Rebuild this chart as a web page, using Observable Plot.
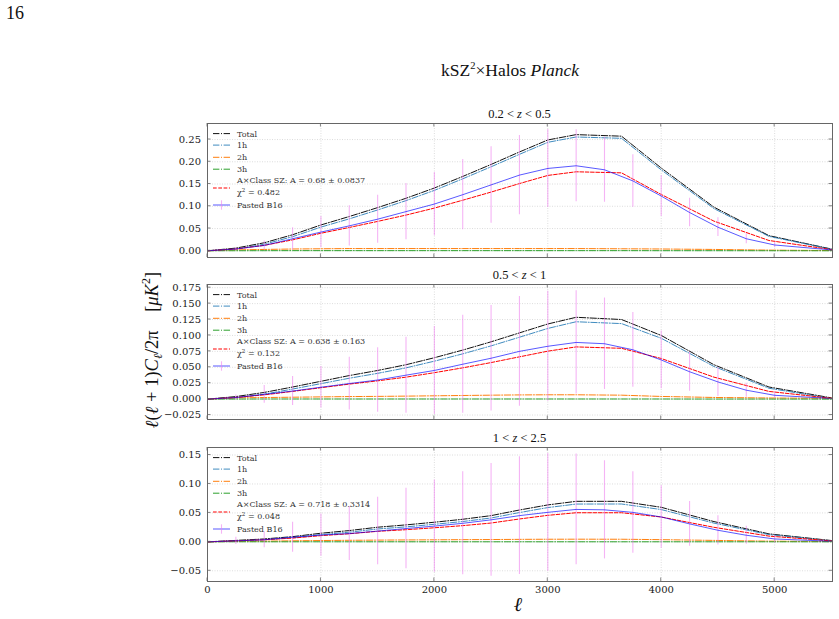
<!DOCTYPE html>
<html>
<head>
<meta charset="utf-8">
<script src="https://cdn.jsdelivr.net/npm/d3@7"></script>
<script src="https://cdn.jsdelivr.net/npm/@observablehq/plot@0.6"></script>
<style>
  body { margin: 0; background: #fff; }
  #fig { position: relative; width: 839px; height: 619px; overflow: hidden; font-family: "Liberation Serif", serif; color: #111; }
  .abs { position: absolute; white-space: nowrap; }
  .ctr { transform: translateX(-50%); }
  .panel { position: absolute; left: 0; }
  sup, sub { line-height: 0; }
</style>
</head>
<body>
<div id="fig"></div>
<script>
// Multipole grid of the halo-model curves
const modelEll = [0, 250, 500, 750, 1000, 1250, 1500, 1750, 2000, 2250, 2500, 2750, 3000, 3250, 3650, 4000, 4465, 4950, 5500];
// Multipoles of the B16 band powers (line end points carry no error bar)
const b16Ell = [0, 250, 500, 750, 1000, 1250, 1500, 1750, 2000, 2250, 2500, 2750, 3000, 3250, 3500, 3750, 4000, 4250, 4500, 4750, 5000, 5500];

const xTicks = [0, 1000, 2000, 3000, 4000, 5000];
const yTicks1 = [0, 0.05, 0.10, 0.15, 0.20, 0.25];
const yTicks2 = [-0.025, 0, 0.025, 0.05, 0.075, 0.10, 0.125, 0.15, 0.175];
const yTicks3 = [-0.05, 0, 0.05, 0.10, 0.15];

const zBins = [["0.2", "0.5"], ["0.5", "1"], ["1", "2.5"]];
const ampA = [0.68, 0.638, 0.718];
const ampErr = [0.0837, 0.163, 0.3314];
const chi2 = [0.482, 0.132, 0.048];

// 0.2 < z < 0.5
const total1  = [0, 0.006, 0.018, 0.036, 0.058, 0.077, 0.097, 0.118, 0.141, 0.167, 0.194, 0.222, 0.249, 0.261, 0.2575, 0.186, 0.098, 0.034, 0.004];
const oneH1   = [0, 0.0039, 0.0148, 0.0317, 0.0532, 0.0717, 0.0917, 0.1127, 0.1357, 0.1617, 0.1887, 0.2167, 0.2437, 0.2557, 0.2527, 0.1818, 0.0948, 0.0324, 0.0035];
const twoH1   = [0, 0.002, 0.003, 0.004, 0.0045, 0.005, 0.005, 0.005, 0.005, 0.005, 0.005, 0.005, 0.005, 0.005, 0.0045, 0.004, 0.003, 0.0015, 0.0005];
const threeH1 = [0, 0.0001, 0.0002, 0.0003, 0.0003, 0.0003, 0.0003, 0.0003, 0.0003, 0.0003, 0.0003, 0.0003, 0.0003, 0.0003, 0.0003, 0.0002, 0.0002, 0.0001, 0];
const classSZ1 = [0, 0.0041, 0.0122, 0.0245, 0.0394, 0.0524, 0.066, 0.0802, 0.0959, 0.1136, 0.1319, 0.151, 0.1693, 0.1775, 0.1751, 0.1265, 0.0666, 0.0231, 0.0027];
const b16_1  = [0, 0.004, 0.012, 0.027, 0.042, 0.056, 0.071, 0.088, 0.105, 0.126, 0.148, 0.170, 0.185, 0.191, 0.182, 0.157, 0.123, 0.086, 0.053, 0.027, 0.013, 0.002];
const b16Err1 = [0, 0.003, 0.010, 0.025, 0.035, 0.045, 0.054, 0.063, 0.071, 0.079, 0.086, 0.089, 0.0875, 0.081, 0.073, 0.059, 0.046, 0.032, 0.021, 0.011, 0.006, 0];

// 0.5 < z < 1
const total2  = [0, 0.004, 0.0105, 0.019, 0.028, 0.037, 0.045, 0.054, 0.065, 0.077, 0.090, 0.104, 0.118, 0.1285, 0.125, 0.100, 0.054, 0.019, 0.002];
const oneH2   = [0, 0.0019, 0.0078, 0.0158, 0.0243, 0.0328, 0.0405, 0.0491, 0.0596, 0.0711, 0.0836, 0.0972, 0.111, 0.1215, 0.1186, 0.0956, 0.0513, 0.0171, 0.0008];
const twoH2   = [0, 0.002, 0.0025, 0.003, 0.0035, 0.004, 0.0043, 0.0047, 0.0052, 0.0057, 0.0062, 0.0066, 0.0068, 0.0068, 0.0062, 0.0042, 0.0026, 0.0018, 0.0012];
const threeH2 = [0, 0.0001, 0.0002, 0.0002, 0.0002, 0.0002, 0.0002, 0.0002, 0.0002, 0.0002, 0.0002, 0.0002, 0.0002, 0.0002, 0.0002, 0.0002, 0.0001, 0.0001, 0];
const classSZ2 = [0, 0.0026, 0.0067, 0.0121, 0.0179, 0.0236, 0.0287, 0.0345, 0.0415, 0.0491, 0.0574, 0.0664, 0.0753, 0.082, 0.0798, 0.0638, 0.0345, 0.0121, 0.0013];
const b16_2  = [0, 0.0025, 0.0075, 0.0127, 0.0187, 0.0245, 0.030, 0.0376, 0.045, 0.0548, 0.0642, 0.075, 0.083, 0.089, 0.087, 0.0775, 0.0615, 0.043, 0.027, 0.014, 0.006, 0.001];
const b16Err2 = [0, 0.004, 0.0139, 0.0228, 0.0325, 0.0414, 0.0506, 0.0597, 0.069, 0.0768, 0.083, 0.086, 0.0865, 0.081, 0.0718, 0.0587, 0.0453, 0.0307, 0.0228, 0.011, 0.0047, 0];

// 1 < z < 2.5
const total3  = [0, 0.0025, 0.005, 0.009, 0.0149, 0.0195, 0.0253, 0.0293, 0.0339, 0.039, 0.0453, 0.055, 0.0638, 0.070, 0.070, 0.0597, 0.035, 0.0138, 0.0023];
const oneH3   = [0, 0.0016, 0.0037, 0.0071, 0.0125, 0.0167, 0.0222, 0.0259, 0.0303, 0.0351, 0.0412, 0.0506, 0.0592, 0.0653, 0.0654, 0.0558, 0.0324, 0.0125, 0.0018];
const twoH3   = [0, 0.0008, 0.0012, 0.0018, 0.0023, 0.0027, 0.003, 0.0033, 0.0035, 0.0038, 0.004, 0.0043, 0.0045, 0.0046, 0.0045, 0.0038, 0.0025, 0.0012, 0.0005];
const threeH3 = [0, 0.0001, 0.0001, 0.0001, 0.0001, 0.0001, 0.0001, 0.0001, 0.0001, 0.0001, 0.0001, 0.0001, 0.0001, 0.0001, 0.0001, 0.0001, 0.0001, 0.0001, 0];
const classSZ3 = [0, 0.0018, 0.0036, 0.0065, 0.0107, 0.014, 0.0182, 0.021, 0.0243, 0.028, 0.0325, 0.0395, 0.0458, 0.0503, 0.0503, 0.0429, 0.0251, 0.0099, 0.0017];
const b16_3  = [0, 0.0017, 0.0036, 0.008, 0.0117, 0.0143, 0.0186, 0.023, 0.0272, 0.032, 0.038, 0.0453, 0.051, 0.056, 0.0553, 0.0509, 0.043, 0.031, 0.020, 0.0114, 0.005, 0.001];
const b16Err3 = [0, 0.0063, 0.014, 0.026, 0.0365, 0.0466, 0.0583, 0.0695, 0.0796, 0.089, 0.0974, 0.1017, 0.1017, 0.0957, 0.0848, 0.0704, 0.054, 0.0385, 0.0253, 0.0155, 0.0069, 0];

// Line styles (matplotlib-like dash patterns)
const DASHDOT = "6.4,1.6,1,1.6";
const DASHED = "3.7,1.6";
const styles = {
  total: {stroke: "#111", dash: DASHDOT, opacity: 1},
  one:   {stroke: "#1f77b4", dash: DASHDOT, opacity: 0.85},
  two:   {stroke: "#ff7f0e", dash: DASHDOT, opacity: 1},
  three: {stroke: "#2ca02c", dash: DASHDOT, opacity: 1},
  sz:    {stroke: "red", dash: DASHED, opacity: 1},
  b16:   {stroke: "blue", dash: null, opacity: 0.65},
  err:   {stroke: "violet", opacity: 0.6}
};

const panels = [
  {top: 113, frameH: 134, mb: 10, domain: [-0.0151, 0.286], yTicks: yTicks1, fmt: ".2f",
   total: total1, one: oneH1, two: twoH1, three: threeH1, sz: classSZ1, b16: b16_1, err: b16Err1, showX: false},
  {top: 274, frameH: 135, mb: 10, domain: [-0.032, 0.180], yTicks: yTicks2, fmt: ".3f",
   total: total2, one: oneH2, two: twoH2, three: threeH2, sz: classSZ2, b16: b16_2, err: b16Err2, showX: false},
  {top: 437, frameH: 134, mb: 26, domain: [-0.0685, 0.163], yTicks: yTicks3, fmt: ".2f",
   total: total3, one: oneH3, two: twoH3, three: threeH3, sz: classSZ3, b16: b16_3, err: b16Err3, showX: true}
];

const W = 839, ML = 207, MR = 7, MT = 10;
const SERIF = "DejaVu Serif";
const fig = document.getElementById("fig");

// Inward tick marks on all four sides of the frame
function innerTicks(xt, yt, len = 3.5) {
  return (index, scales, values, dims) => {
    const {width, height, marginLeft, marginRight, marginTop, marginBottom} = dims;
    const x0 = marginLeft, x1 = width - marginRight, y0 = marginTop, y1 = height - marginBottom;
    const g = d3.create("svg:g").attr("stroke", "#666").attr("stroke-width", 0.8);
    for (const t of xt) {
      const px = scales.x(t);
      g.append("line").attr("x1", px).attr("x2", px).attr("y1", y1).attr("y2", y1 - len);
      g.append("line").attr("x1", px).attr("x2", px).attr("y1", y0).attr("y2", y0 + len);
    }
    for (const t of yt) {
      const py = scales.y(t);
      g.append("line").attr("y1", py).attr("y2", py).attr("x1", x0).attr("x2", x0 + len);
      g.append("line").attr("y1", py).attr("y2", py).attr("x1", x1).attr("x2", x1 - len);
    }
    return g.node();
  };
}

const series = (ell, vals) => ell.map((l, i) => ({l, v: vals[i]}));

function lineMark(ell, vals, st, w = 1) {
  return Plot.line(series(ell, vals), {
    x: "l", y: "v", stroke: st.stroke, strokeWidth: w, strokeOpacity: st.opacity,
    strokeDasharray: st.dash ?? undefined
  });
}

// Legend drawn into the panel's own SVG, anchored at the frame's upper-left corner
function drawLegend(svg, k) {
  const g = d3.select(svg).append("g")
    .attr("font-family", SERIF).attr("font-size", 8).attr("fill", "#333")
    .attr("text-anchor", "start");
  const rows = [
    {c: 10.6, text: "Total", st: styles.total},
    {c: 22.1, text: "1h", st: styles.one},
    {c: 34.3, text: "2h", st: styles.two},
    {c: 46.2, text: "3h", st: styles.three},
    {c: 65.0, text: null, st: styles.sz},
    {c: 82.0, text: "Pasted B16", st: styles.b16, bar: true}
  ];
  const hx0 = 213, hx1 = 230, tx = 237;
  for (const r of rows) {
    const y = MT + r.c;
    const ln = g.append("line").attr("x1", hx0).attr("x2", hx1).attr("y1", y).attr("y2", y)
      .attr("stroke", r.st.stroke).attr("stroke-opacity", r.st.opacity).attr("stroke-width", 1);
    if (r.st.dash) ln.attr("stroke-dasharray", r.st.dash);
    if (r.bar) g.append("line").attr("x1", (hx0 + hx1) / 2).attr("x2", (hx0 + hx1) / 2)
      .attr("y1", y - 4.7).attr("y2", y + 4.7)
      .attr("stroke", styles.err.stroke).attr("stroke-opacity", styles.err.opacity).attr("stroke-width", 1.1);
    if (r.text) g.append("text").attr("x", tx).attr("y", y + 2.9).text(r.text);
  }
  g.append("text").attr("x", tx).attr("y", MT + 57.5 + 2.9)
    .text(`A×Class SZ: A = ${ampA[k]} ± ${ampErr[k]}`);
  const chi = g.append("text").attr("x", tx).attr("y", MT + 68.7 + 2.9);
  chi.append("tspan").text("χ");
  chi.append("tspan").attr("dy", -3).attr("font-size", 5.5).text("2");
  chi.append("tspan").attr("dy", 3).text(` = ${chi2[k]}`);
}

panels.forEach((p, k) => {
  const height = MT + p.frameH + p.mb;
  const bands = b16Ell.map((l, i) => ({l, v: p.b16[i], e: p.err[i]})).filter(d => d.e > 0);
  const marks = [
    Plot.gridX(xTicks, {stroke: "#cfcfcf", strokeOpacity: 1, strokeWidth: 0.7, strokeDasharray: "1,1.5"}),
    Plot.gridY(p.yTicks, {stroke: "#cfcfcf", strokeOpacity: 1, strokeWidth: 0.7, strokeDasharray: "1,1.5"}),
    lineMark(modelEll, p.total, styles.total),
    lineMark(modelEll, p.one, styles.one),
    lineMark(modelEll, p.two, styles.two),
    lineMark(modelEll, p.three, styles.three),
    lineMark(modelEll, p.sz, styles.sz),
    Plot.ruleX(bands, {x: "l", y1: d => d.v - d.e, y2: d => d.v + d.e,
      stroke: styles.err.stroke, strokeOpacity: styles.err.opacity, strokeWidth: 1.1}),
    lineMark(b16Ell, p.b16, styles.b16),
    Plot.axisY(p.yTicks, {tickSize: 0, tickPadding: 6.5, tickFormat: d3.format(p.fmt), label: null}),
    Plot.frame({stroke: "#666", strokeWidth: 1}),
    innerTicks(xTicks, p.yTicks)
  ];
  if (p.showX) marks.push(Plot.axisX(xTicks, {tickSize: 0, tickPadding: 4.5, tickFormat: d3.format("d"), label: null}));

  const svg = Plot.plot({
    width: W, height,
    marginLeft: ML, marginRight: MR, marginTop: MT, marginBottom: p.mb,
    x: {domain: [0, 5510], axis: p.showX ? undefined : null},
    y: {domain: p.domain},
    style: {fontFamily: SERIF, fontSize: "10px", color: "#1a1a1a", background: "transparent", overflow: "visible"},
    marks
  });
  svg.classList.add("panel");
  svg.style.top = p.top + "px";
  drawLegend(svg, k);
  fig.appendChild(svg);

  // Bin title above the frame
  const t = document.createElement("div");
  t.className = "abs ctr";
  t.style.cssText += `left:${(ML + W - MR) / 2}px;top:${p.top + MT - 15}px;font-size:12.5px;line-height:12px;`;
  t.innerHTML = `${zBins[k][0]} &lt; <i>z</i> &lt; ${zBins[k][1]}`;
  fig.appendChild(t);
});

// Page number, figure title and axis titles
const add = (html, css, cls = "abs") => {
  const d = document.createElement("div");
  d.className = cls; d.style.cssText = css; d.innerHTML = html; fig.appendChild(d);
  return d;
};
add("16", "left:6px;top:3px;font-size:18px;line-height:20px;");
add("kSZ<sup style=\"font-size:10.5px;vertical-align:7px\">2</sup>×Halos <i>Planck</i>",
    "left:510px;top:60px;font-size:17.5px;line-height:20px;", "abs ctr");
add("<i>ℓ</i>", "left:518px;top:594px;font-size:20px;line-height:20px;", "abs ctr");
add("<i>ℓ</i>(<i>ℓ</i> + 1)<i>C</i><sub style=\"font-size:12px;vertical-align:-4px\"><i>ℓ</i></sub>/2π\u2003[<i>μK</i><sup style=\"font-size:12px;vertical-align:8px\">2</sup>]",
    "left:152px;top:350px;font-size:18.5px;line-height:22px;transform:translate(-50%,-50%) rotate(-90deg);");
</script>
</body>
</html>
